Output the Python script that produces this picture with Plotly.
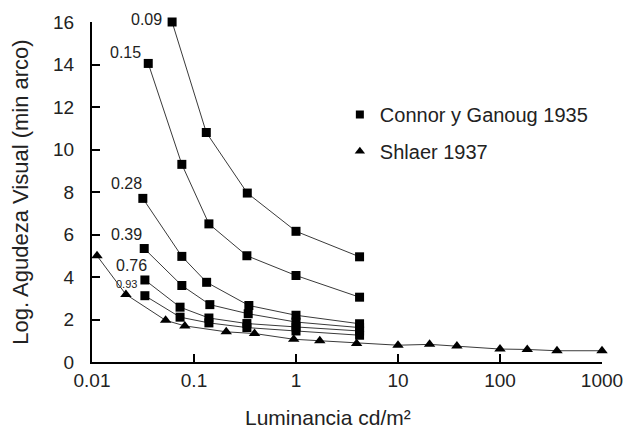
import math
import plotly.graph_objects as go

# ---- data ----
curve_labels = ["0.09", "0.15", "0.28", "0.39", "0.76", "0.93"]
x_009 = [0.061, 0.132, 0.333, 1.0, 4.2]
y_009 = [16.0, 10.8, 7.95, 6.15, 4.95]
x_015 = [0.0356, 0.076, 0.14, 0.33, 1.0, 4.2]
y_015 = [14.05, 9.3, 6.5, 5.0, 4.07, 3.05]
x_028 = [0.0315, 0.076, 0.133, 0.345, 1.0, 4.2]
y_028 = [7.7, 4.97, 3.75, 2.66, 2.2, 1.8]
x_039 = [0.0325, 0.076, 0.143, 0.34, 1.0, 4.2]
y_039 = [5.34, 3.6, 2.7, 2.27, 1.88, 1.62]
x_076 = [0.033, 0.073, 0.14, 0.33, 1.0, 4.2]
y_076 = [3.86, 2.58, 2.07, 1.81, 1.65, 1.46]
x_093 = [0.033, 0.073, 0.14, 0.33, 1.0, 4.2]
y_093 = [3.12, 2.11, 1.84, 1.62, 1.46, 1.26]

x_shlaer = [0.0112, 0.0215, 0.0527, 0.0813, 0.207, 0.392, 0.95, 1.71, 3.93,
            10, 20.4, 37.8, 100, 185, 362, 1000]
y_shlaer = [5.0, 3.18, 1.96, 1.70, 1.42, 1.34, 1.07, 1.0, 0.87,
            0.79, 0.83, 0.75, 0.61, 0.59, 0.53, 0.53]

x_tickvals = [0.01, 0.1, 1, 10, 100, 1000]
x_ticktext = ["0.01", "0.1", "1", "10", "100", "1000"]
y_tickvals = [0, 2, 4, 6, 8, 10, 12, 14, 16]

legend_names = ["Connor y Ganoug 1935", "Shlaer 1937"]

series = [(x_009, y_009), (x_015, y_015), (x_028, y_028),
          (x_039, y_039), (x_076, y_076), (x_093, y_093)]

# label offsets (pixels) relative to first point of each curve, and font sizes
label_shift = [(-8, 3), (-5, 11), (1, 15), (0, 14), (4, 14), (-6, 12)]
label_size = [16, 16, 16, 16, 16, 11]

FONT = "Liberation Sans, Arial, sans-serif"
TXT = "#222"
LINE = "#3a3a3a"

fig = go.Figure()
for xs, ys in series:
    fig.add_trace(go.Scatter(
        x=xs, y=ys, mode="lines+markers", showlegend=False,
        line=dict(color=LINE, width=1),
        marker=dict(symbol="square", size=9, color="black"),
        cliponaxis=False))

fig.add_trace(go.Scatter(
    x=x_shlaer, y=y_shlaer, mode="lines+markers", showlegend=False,
    line=dict(color=LINE, width=1),
    marker=dict(symbol="triangle-up", size=10, color="black"),
    cliponaxis=False))

# legend entries (markers only)
fig.add_trace(go.Scatter(x=[None], y=[None], mode="markers", name=legend_names[0],
                         marker=dict(symbol="square", size=8, color="black"),
                         legend="legend"))
fig.add_trace(go.Scatter(x=[None], y=[None], mode="markers", name=legend_names[1],
                         marker=dict(symbol="triangle-up", size=9, color="black"),
                         legend="legend2"))

for (xs, ys), lab, (dx, dy), fs in zip(series, curve_labels, label_shift, label_size):
    fig.add_annotation(x=math.log10(xs[0]), y=ys[0], xref="x", yref="y", text=lab,
                       showarrow=False, xanchor="right", yanchor="middle",
                       xshift=dx, yshift=dy,
                       font=dict(family=FONT, size=fs, color=TXT))

fig.add_annotation(x=0.463, y=-0.164, xref="paper", yref="paper",
                   text="Luminancia cd/m²", showarrow=False,
                   xanchor="center", yanchor="middle",
                   font=dict(family=FONT, size=21, color=TXT))

fig.update_layout(
    width=635, height=436,
    margin=dict(l=92, r=29, t=20, b=74),
    paper_bgcolor="white", plot_bgcolor="white",
    font=dict(family=FONT, color=TXT),
    legend=dict(x=0.486, y=0.728, xanchor="left", yanchor="middle",
                bgcolor="rgba(0,0,0,0)", font=dict(size=20, family=FONT, color=TXT)),
    legend2=dict(x=0.486, y=0.62, xanchor="left", yanchor="middle",
                 bgcolor="rgba(0,0,0,0)", font=dict(size=20, family=FONT, color=TXT)),
)
fig.update_xaxes(type="log", range=[-2, 3], tickvals=x_tickvals, ticktext=x_ticktext,
                 showgrid=False, zeroline=False, showline=True, linecolor="black",
                 linewidth=2, ticks="inside", ticklen=8, tickwidth=2, tickcolor="black",
                 tickfont=dict(size=19, family=FONT, color=TXT),
                 ticklabelstandoff=0)
fig.update_yaxes(range=[0, 16], tickvals=y_tickvals,
                 showgrid=False, zeroline=False, showline=True, linecolor="black",
                 linewidth=2, ticks="inside", ticklen=8, tickwidth=2, tickcolor="black",
                 tickfont=dict(size=19, family=FONT, color=TXT),
                 ticklabelstandoff=12,
                 title=dict(text="Log. Agudeza Visual (min arco)", standoff=18,
                            font=dict(size=22, family=FONT, color=TXT)))

fig.write_html("out.html")
